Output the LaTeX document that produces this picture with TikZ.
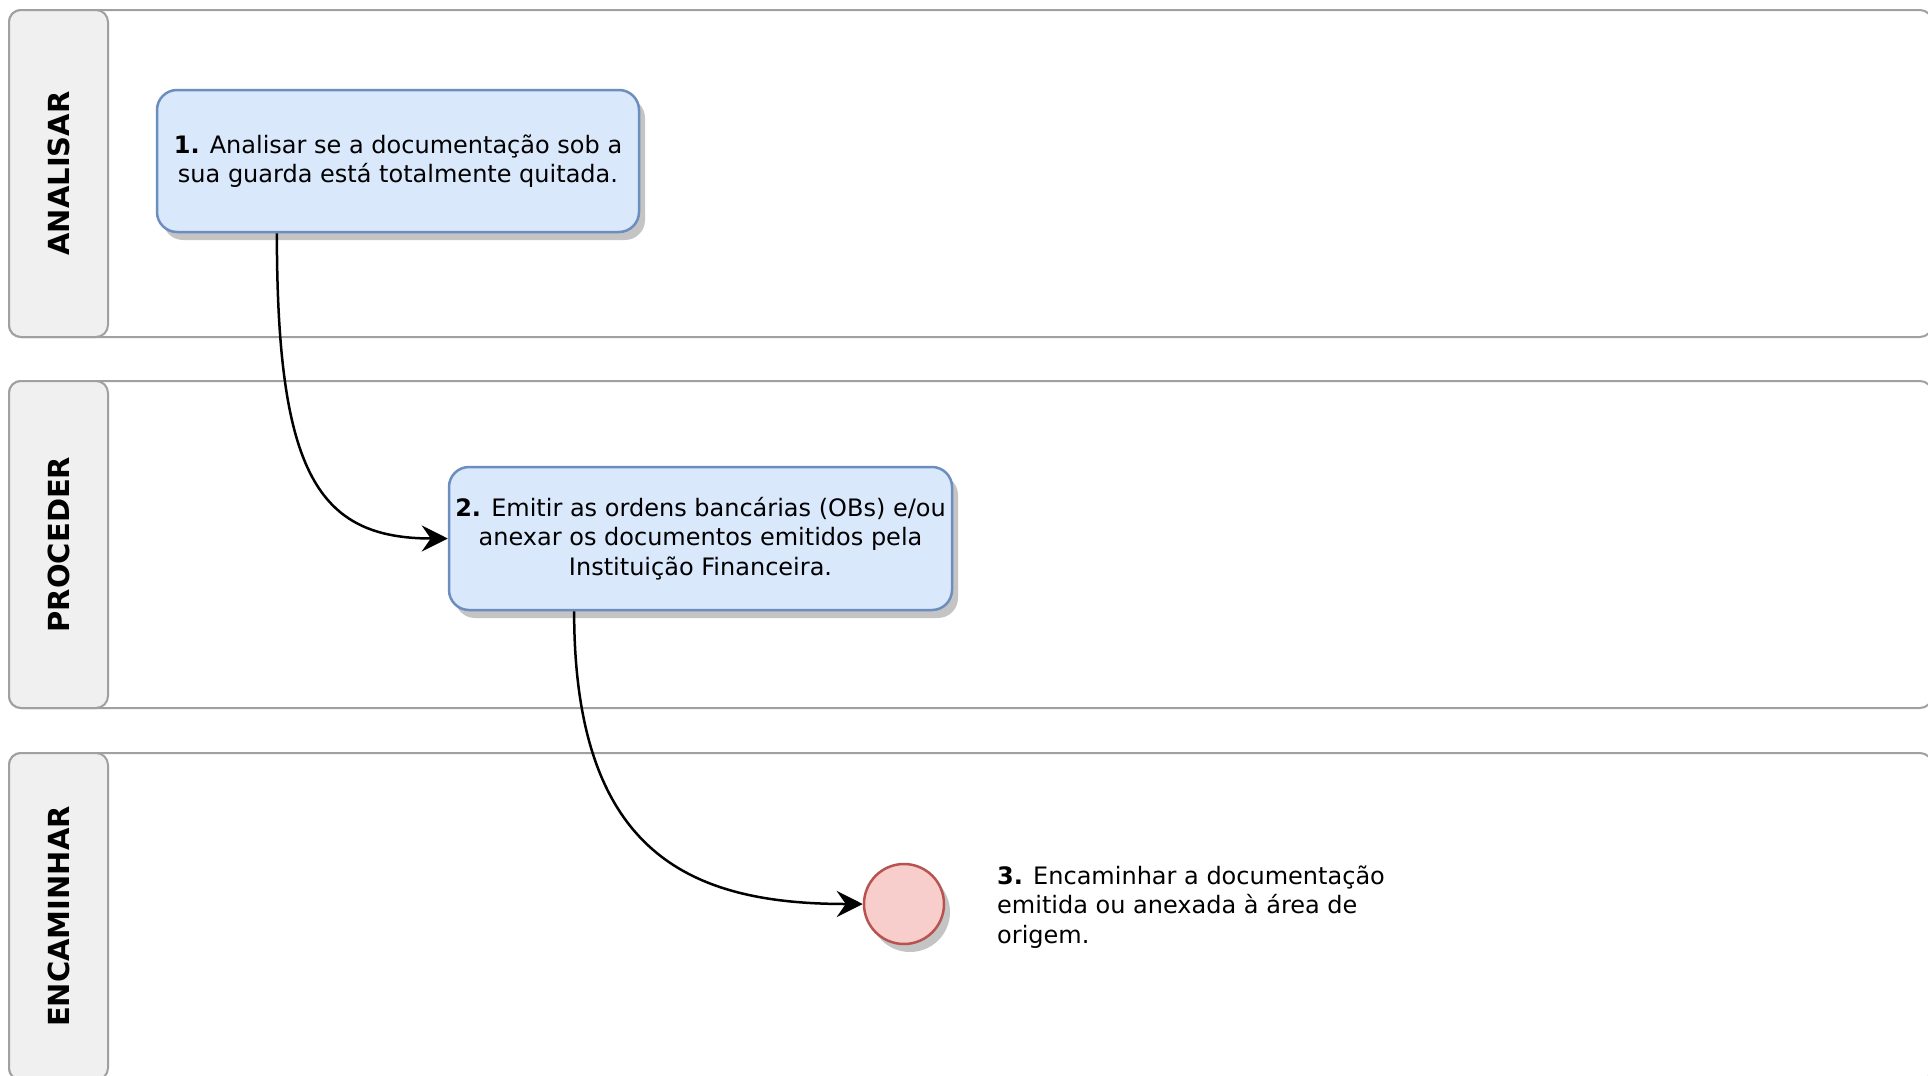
\documentclass[tikz,border=0pt]{standalone}
\usepackage{fontspec}
\setmainfont{DejaVu Sans}
\usepackage{tikz}
\usetikzlibrary{positioning, arrows.meta, calc, shadows}
\usepackage{xcolor}
\definecolor{raiaBorda}{HTML}{A0A0A0}
\definecolor{raiaCabeca}{HTML}{F0F0F0}
\definecolor{tarefaFundo}{HTML}{DAE8FC}
\definecolor{tarefaBorda}{HTML}{6C8EBF}
\definecolor{fimFundo}{HTML}{F8CECC}
\definecolor{fimBorda}{HTML}{B85450}
\definecolor{sombra}{HTML}{C4C4C4}

\begin{document}
\begin{tikzpicture}[x=1pt, y=-1pt,
    raia/.style={draw=raiaBorda, line width=2pt, rounded corners=12pt},
    cabeca/.style={raia, fill=raiaCabeca},
    rotulo/.style={rotate=90, font=\fontsize{29}{34}\selectfont\bfseries},
    sombreado/.style={drop shadow={shadow xshift=6pt, shadow yshift=-8pt, fill=sombra, opacity=1}},
    tarefa/.style={draw=tarefaBorda, fill=tarefaFundo, line width=2.5pt, rounded corners=20pt,
      sombreado, inner sep=0pt, align=center, font=\fontsize{24}{29.5}\selectfont},
    fim/.style={circle, draw=fimBorda, fill=fimFundo, line width=2.5pt, sombreado, minimum size=80pt},
    texto/.style={inner sep=0pt, align=left, font=\fontsize{24}{29.5}\selectfont},
    seta/.style={-{Stealth[length=26pt, width=26pt, inset=9pt]}, line width=2.5pt, black}]
  \useasboundingbox (0,0) rectangle (1928,1076);
  \fill[white] (0,0) rectangle (1928,1076);
  \foreach \nome/\topo in {ANALISAR/10, PROCEDER/381, ENCAMINHAR/753} {
    \draw[raia] (9,\topo) rectangle (1932,\topo+327);
    \draw[cabeca] (9,\topo) rectangle (108,\topo+327);
    \node[rotulo] (cab\nome) at (58.5,\topo+163.5) {\nome};
  }
  \node[tarefa, minimum width=482pt, minimum height=142pt] (analisar) at (398,161)
    {\textbf{1.} Analisar se a documentação sob a\\sua guarda está totalmente quitada.};
  \node[tarefa, minimum width=503pt, minimum height=143pt] (emitir) at (700.5,538.5)
    {\textbf{2.} Emitir as ordens bancárias (OBs) e/ou\\anexar os documentos emitidos pela\\Instituição Financeira.};
  \node[fim] (encaminhar) at (904,904) {};
  \node[texto, anchor=west] (descricao) at (997,907)
    {\textbf{3.} Encaminhar a documentação\\emitida ou anexada à área de\\origem.};
  \draw[seta] ($(analisar.south west)!.25!(analisar.south east)$)
    .. controls +(0,240) and +(-130,0) .. (emitir.west);
  \draw[seta] ($(emitir.south west)!.25!(emitir.south east)$)
    .. controls +(0,245) and +(-170,0) .. (encaminhar.west);
\end{tikzpicture}
\end{document}
